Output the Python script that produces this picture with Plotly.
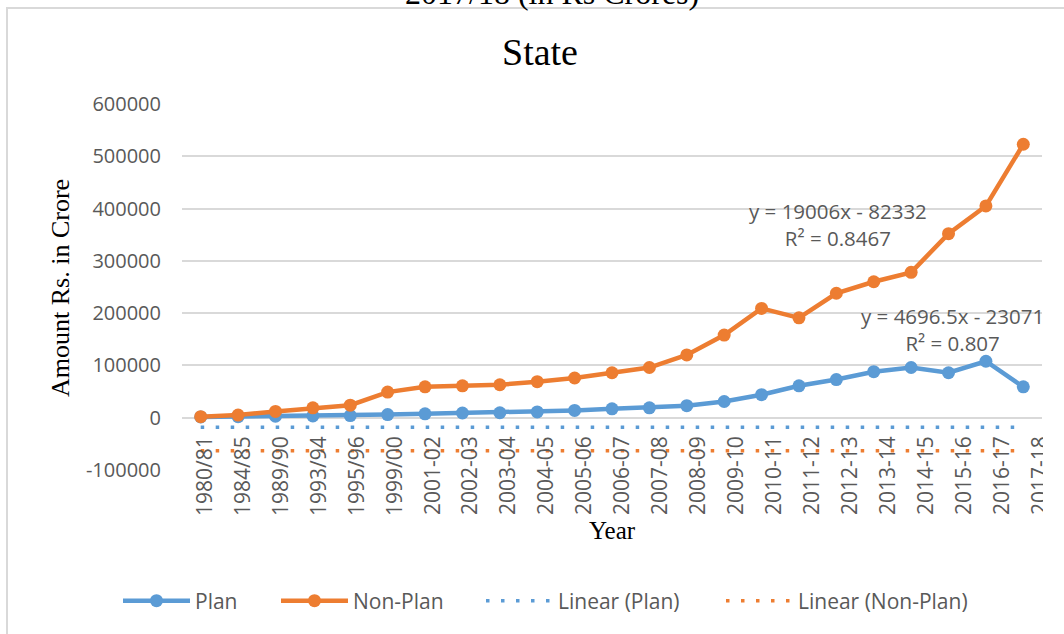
import plotly.graph_objects as go

# Financial years on the category axis
years = ["1980/81", "1984/85", "1989/90", "1993/94", "1995/96", "1999/00",
         "2001-02", "2002-03", "2003-04", "2004-05", "2005-06", "2006-07",
         "2007-08", "2008-09", "2009-10", "2010-11", "2011-12", "2012-13",
         "2013-14", "2014-15", "2015-16", "2016-17", "2017-18"]

# Expenditure, Rs. in crore
plan = [1500, 2000, 3000, 3500, 4000, 6000, 7500, 9000, 9500, 11000, 14000,
        17000, 19000, 23000, 31000, 44000, 61000, 73000, 88000, 96000, 86000,
        108000, 59000]
non_plan = [2000, 5000, 12000, 19000, 24000, 49000, 59000, 61000, 63000, 69000,
            76000, 86000, 96000, 120000, 158000, 209000, 191000, 238000, 260000,
            278000, 352000, 405000, 523000]

# Linear trendlines as rendered (flat level) and their equation labels
plan_trend_level = -18375
non_plan_trend_level = -63326
plan_eq = "y = 4696.5x - 23071<br>R² = 0.807"
non_plan_eq = "y = 19006x - 82332<br>R² = 0.8467"

y_ticks = [-100000, 0, 100000, 200000, 300000, 400000, 500000, 600000]
y_ticktext = ["-100000", "0", "100000", "200000", "300000", "400000", "500000", "600000"]

BLUE = "#5B9BD5"
ORANGE = "#ED7D31"
GREY = "#595959"
GRID = "#D9D9D9"
SANS = "Open Sans"
SERIF = "Liberation Serif"

W, H = 1064, 634
L, R, T, B = 182, 22, 104, 164
PW, PH = W - L - R, H - T - B


def px_x(p):
    return (p - L) / PW


def px_y(p):
    return (H - B - p) / PH


fig = go.Figure()

fig.add_trace(go.Scatter(
    x=years, y=plan, name="Plan", mode="lines+markers", legend="legend",
    line=dict(color=BLUE, width=4.5), marker=dict(color=BLUE, size=13)))
fig.add_trace(go.Scatter(
    x=years, y=non_plan, name="Non-Plan", mode="lines+markers", legend="legend2",
    line=dict(color=ORANGE, width=4.5), marker=dict(color=ORANGE, size=13)))
fig.add_trace(go.Scatter(
    x=years, y=[plan_trend_level] * len(years), name="Linear (Plan)", mode="lines",
    legend="legend3", line=dict(color=BLUE, width=3.5, dash="3.5px,11.5px")))
fig.add_trace(go.Scatter(
    x=years, y=[non_plan_trend_level] * len(years), name="Linear (Non-Plan)", mode="lines",
    legend="legend4", line=dict(color=ORANGE, width=3.5, dash="3.5px,11.5px")))

# carrier for the year labels axis
fig.add_trace(go.Scatter(x=[], y=[], xaxis="x2", showlegend=False, hoverinfo="skip"))

# one legend box per entry, placed along the bottom
legend_left_px = [118, 276, 481, 721]
legend_common = dict(orientation="h", xanchor="left", y=px_y(601), yanchor="middle",
                     font=dict(family=SANS, size=21, color=GREY), itemwidth=67,
                     bgcolor="rgba(0,0,0,0)")
legends = {}
for i, lx in enumerate(legend_left_px):
    key = "legend" if i == 0 else f"legend{i + 1}"
    legends[key] = dict(x=px_x(lx), **legend_common)

fig.update_layout(
    width=W, height=H, autosize=False,
    margin=dict(l=L, r=R, t=T, b=B),
    paper_bgcolor="white", plot_bgcolor="white",
    showlegend=True,
    xaxis=dict(type="category", categoryorder="array", categoryarray=years,
               range=[-0.5, len(years) - 0.5], showticklabels=False,
               showgrid=False, zeroline=False, showline=False, ticks=""),
    xaxis2=dict(overlaying="x", anchor="free", position=px_y(418), side="bottom",
                range=[-0.606, 22.055], tickmode="array",
                tickvals=list(range(len(years))), ticktext=years, tickangle=-90,
                tickfont=dict(family=SANS, size=21, color=GREY),
                showgrid=False, zeroline=False, showline=False, ticks="",
                ticklabelstandoff=13),
    yaxis=dict(range=[-100000, 600000], tickmode="array", tickvals=y_ticks,
               ticktext=y_ticktext, tickfont=dict(family=SANS, size=20, color=GREY),
               showgrid=True, gridcolor=GRID, gridwidth=1.5, zeroline=False,
               showline=False, ticks="", ticklabelstandoff=20),
    **legends,
)

# Chart-area border and the clipping strip at the right edge
fig.add_shape(type="rect", xref="paper", yref="paper",
              x0=1.0 + 1 / PW, x1=(W + 10 - L) / PW, y0=px_y(425), y1=px_y(525),
              fillcolor="white", line=dict(width=0), layer="above")
fig.add_shape(type="rect", xref="paper", yref="paper",
              x0=px_x(7), x1=px_x(W + 20), y0=px_y(H + 20), y1=px_y(8),
              line=dict(color=GRID, width=2), fillcolor="rgba(0,0,0,0)", layer="above")

annotations = [
    dict(text="State", x=px_x(540), y=px_y(52), font=dict(family=SERIF, size=38, color="black")),
    dict(text="2017/18 (in Rs Crores)", x=px_x(552), y=px_y(-7),
         font=dict(family=SERIF, size=32, color="black")),
    dict(text="Amount Rs. in Crore", x=px_x(60), y=px_y(288), textangle=-90,
         font=dict(family=SERIF, size=26, color="black")),
    dict(text="Year", x=px_x(612), y=px_y(530), font=dict(family=SERIF, size=25, color="black")),
    dict(text=non_plan_eq, x=px_x(838), y=px_y(224), font=dict(family=SANS, size=20.5, color=GREY)),
    dict(text=plan_eq, x=px_x(952), y=px_y(329), font=dict(family=SANS, size=20.5, color=GREY)),
]
for a in annotations:
    fig.add_annotation(xref="paper", yref="paper", showarrow=False,
                       xanchor="center", yanchor="middle", align="center", **a)

fig.write_html("out.html")
